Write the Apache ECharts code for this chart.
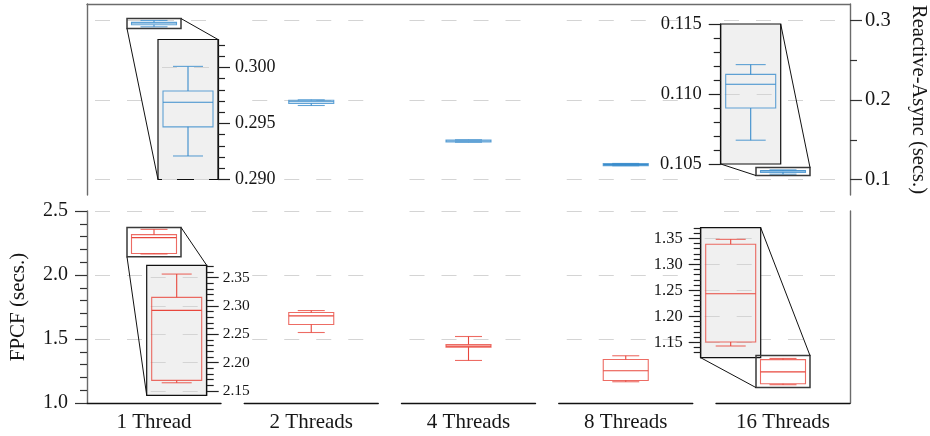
<!DOCTYPE html>
<html><head><meta charset="utf-8">
<script src="https://cdn.jsdelivr.net/npm/echarts@6/dist/echarts.min.js"></script>
<style>html,body{margin:0;padding:0;background:#fff}#c{width:930px;height:436px}</style>
</head><body><div id="c"></div>
<script>
// ---------------- data ----------------
const categories = ['1 Thread', '2 Threads', '4 Threads', '8 Threads', '16 Threads'];
// each row: [lower whisker, Q1, median, Q3, upper whisker]
const reactiveAsync = [
  [0.2921, 0.2947, 0.2969, 0.2979, 0.3001],
  [0.1931, 0.1957, 0.1979, 0.1997, 0.2002],
  [0.1470, 0.1472, 0.1484, 0.1497, 0.1499],
  [0.1173, 0.1175, 0.1187, 0.1200, 0.1202],
  [0.1067, 0.1090, 0.1107, 0.1114, 0.1121]
];
const fpcf = [
  [2.1642, 2.1684, 2.2923, 2.3153, 2.3565],
  [1.5507, 1.6131, 1.6807, 1.7067, 1.7223],
  [1.3323, 1.4368, 1.4440, 1.4570, 1.5195],
  [1.1660, 1.1763, 1.2519, 1.3400, 1.3690],
  [1.1429, 1.1506, 1.2435, 1.3385, 1.3480]
];
const topRange = [0.0805, 0.3208];
const topTicks = [0.1, 0.2, 0.3];
const topMinorTicks = [0.15, 0.25];
const botRange = [1.0, 2.5];
const botGridTicks = [1.5, 2.0, 2.5];
const insetTopLeftRange = [0.290, 0.3025];
const insetTopLeftTicks = [0.290, 0.295, 0.300];
const insetTopRightRange = [0.105, 0.115];
const insetTopRightTicks = [0.105, 0.110, 0.115];
const insetBotLeftRange = [2.142, 2.372];
const insetBotLeftTicks = [2.15, 2.20, 2.25, 2.30, 2.35];
const insetBotRightRange = [1.1204, 1.3704];
const insetBotRightTicks = [1.15, 1.20, 1.25, 1.30, 1.35];

// ---------------- style / layout ----------------
const FONT = 'Liberation Serif';
const TXT = '#161616';
const GRAY = '#6b6b6b';
const BLUE = '#3a8ccc';
const RED = '#e8473d';
const GRID_LINE = '#d4d4d4';
const COL_LEFT = 87, COL_W = 134, COL_STEP = 157.25;
const TOP = {top: 4, height: 191};
const BOT = {top: 211, height: 192};
const MAIN_BOX = 45 / 134;
const INSET_BOX = 50 / 60;

function minorList(range, step, majors) {
  const out = [];
  const n0 = Math.ceil(range[0] / step - 1e-6), n1 = Math.floor(range[1] / step + 1e-6);
  for (let k = n0; k <= n1; k++) {
    const v = +(k * step).toFixed(6);
    if (!majors.some(m => Math.abs(m - v) < step / 10)) out.push(v);
  }
  return out;
}

const grids = [], xAxes = [], yAxes = [], series = [];
const addGrid = g => (grids.push(Object.assign({outerBoundsMode: 'none', containLabel: false}, g)), grids.length - 1);
const addX = a => (xAxes.push(a), xAxes.length - 1);
const addY = a => (yAxes.push(a), yAxes.length - 1);

function boxRender(frac, color) {
  return function (params, api) {
    const c = api.value(0);
    const bw = api.size([1, 0])[0] * frac;
    const pLow = api.coord([c, api.value(1)]);
    const pQ1 = api.coord([c, api.value(2)]);
    const pMed = api.coord([c, api.value(3)]);
    const pQ3 = api.coord([c, api.value(4)]);
    const pHigh = api.coord([c, api.value(5)]);
    const x = pMed[0], h = bw / 2, cap = bw * 0.3;
    const soft = {stroke: color, lineWidth: 1.1, fill: null, opacity: 0.8};
    const hard = {stroke: color, lineWidth: 1.1, fill: null};
    return {type: 'group', children: [
      {type: 'rect', shape: {x: x - h, y: pQ3[1], width: bw, height: pQ1[1] - pQ3[1]}, style: soft},
      {type: 'line', shape: {x1: x - h, y1: pMed[1], x2: x + h, y2: pMed[1]}, style: hard},
      {type: 'line', shape: {x1: x, y1: pQ3[1], x2: x, y2: pHigh[1]}, style: hard},
      {type: 'line', shape: {x1: x, y1: pQ1[1], x2: x, y2: pLow[1]}, style: hard},
      {type: 'line', shape: {x1: x - cap, y1: pHigh[1], x2: x + cap, y2: pHigh[1]}, style: soft},
      {type: 'line', shape: {x1: x - cap, y1: pLow[1], x2: x + cap, y2: pLow[1]}, style: soft}
    ]};
  };
}

function gridLineSeries(xi, yi, values, z, offset) {
  return {
    type: 'line', xAxisIndex: xi, yAxisIndex: yi, data: [], z: z, silent: true,
    markLine: {
      silent: true, symbol: ['none', 'none'], z: z, animation: false,
      label: {show: false}, emphasis: {disabled: true},
      lineStyle: {color: GRID_LINE, width: 1.2, type: [15, 17], dashOffset: offset},
      data: values.map(v => ({yAxis: v}))
    }
  };
}

// ----- panel frames with the main value axes -----
const gTopFull = addGrid({left: COL_LEFT, top: TOP.top, width: 763, height: TOP.height});
addX({gridIndex: gTopFull, type: 'value', min: 0, max: 1, position: 'top',
  axisLine: {show: true, onZero: false, lineStyle: {color: GRAY, width: 1.4}},
  axisTick: {show: false}, axisLabel: {show: false}, splitLine: {show: false}});
addY({gridIndex: gTopFull, type: 'value', position: 'right', min: topRange[0], max: topRange[1],
  axisLine: {show: true, onZero: false, lineStyle: {color: GRAY, width: 1.4}},
  axisTick: {show: true, customValues: topTicks, length: 12, lineStyle: {color: '#333', width: 1.2}},
  axisLabel: {show: true, customValues: topTicks, formatter: v => v.toFixed(1), margin: 15,
    fontSize: 20.5, fontFamily: FONT, color: TXT},
  splitLine: {show: false},
  name: 'Reactive-Async (secs.)', nameLocation: 'middle', nameRotate: -90, nameGap: 58,
  nameTextStyle: {fontSize: 20.5, fontFamily: FONT, color: TXT}});
addY({gridIndex: gTopFull, type: 'value', position: 'left', min: topRange[0], max: topRange[1],
  axisLine: {show: true, onZero: false, lineStyle: {color: GRAY, width: 1.4}},
  axisTick: {show: false}, axisLabel: {show: false}, splitLine: {show: false}});

const gBotFull = addGrid({left: COL_LEFT, top: BOT.top, width: 763, height: BOT.height});
addX({gridIndex: gBotFull, type: 'value', min: 0, max: 1, show: false});
addY({gridIndex: gBotFull, type: 'value', position: 'left', min: botRange[0], max: botRange[1], interval: 0.5,
  axisLine: {show: true, onZero: false, lineStyle: {color: GRAY, width: 1.4}},
  axisTick: {show: true, length: 12, lineStyle: {color: '#333', width: 1.2}},
  minorTick: {show: true, splitNumber: 5, length: 7, lineStyle: {color: '#333', width: 1.2}},
  axisLabel: {show: true, formatter: v => v.toFixed(1), margin: 19, fontSize: 20, fontFamily: FONT, color: TXT},
  splitLine: {show: false},
  name: 'FPCF (secs.)', nameLocation: 'middle', nameRotate: 90, nameGap: 58,
  nameTextStyle: {fontSize: 21, fontFamily: FONT, color: TXT}});
addY({gridIndex: gBotFull, type: 'value', position: 'right', min: botRange[0], max: botRange[1],
  axisLine: {show: true, onZero: false, lineStyle: {color: GRAY, width: 1.4}},
  axisTick: {show: false}, axisLabel: {show: false}, splitLine: {show: false}});

// ----- per-category sub-plots -----
const sub = {top: [], bot: []};
categories.forEach((cat, i) => {
  const left = COL_LEFT + i * COL_STEP;
  const last = i === categories.length - 1;
  // top row (the last one also carries the minor ticks of the right-hand axis)
  let g = addGrid({left: left, top: TOP.top, width: COL_W, height: TOP.height});
  let xi = addX({gridIndex: g, type: 'category', data: [cat], show: false, axisLine: {onZero: false}});
  let yi = addY(last ? {gridIndex: g, type: 'value', position: 'right', min: topRange[0], max: topRange[1],
      axisLine: {show: false, onZero: false},
      axisTick: {show: true, customValues: topMinorTicks, length: 7, lineStyle: {color: '#333', width: 1.2}},
      axisLabel: {show: false}, splitLine: {show: false}}
    : {gridIndex: g, type: 'value', min: topRange[0], max: topRange[1], show: false, axisLine: {onZero: false}});
  series.push(gridLineSeries(xi, yi, topTicks, 1, 24));
  series.push({type: 'custom', xAxisIndex: xi, yAxisIndex: yi, z: 3, silent: true,
    renderItem: boxRender(MAIN_BOX, BLUE), data: [[0].concat(reactiveAsync[i])],
    encode: {x: 0, y: [1, 2, 3, 4, 5]}});
  sub.top.push({xi, yi, left});
  // bottom row
  g = addGrid({left: left, top: BOT.top, width: COL_W, height: BOT.height});
  xi = addX({gridIndex: g, type: 'category', data: [cat],
    axisLine: {show: true, onZero: false, lineStyle: {color: '#111', width: 1.4}},
    axisTick: {show: false},
    axisLabel: {show: true, margin: 9, fontSize: 21, fontFamily: FONT, color: TXT}});
  yi = addY({gridIndex: g, type: 'value', min: botRange[0], max: botRange[1], show: false, axisLine: {onZero: false}});
  series.push(gridLineSeries(xi, yi, botGridTicks, 1, 24));
  series.push({type: 'custom', xAxisIndex: xi, yAxisIndex: yi, z: 3, silent: true,
    renderItem: boxRender(MAIN_BOX, RED), data: [[0].concat(fpcf[i])],
    encode: {x: 0, y: [1, 2, 3, 4, 5]}});
  sub.bot.push({xi, yi, left});
});

// ----- zoom insets -----
const insets = [
  {row: 'top', cat: 0, values: reactiveAsync[0], color: BLUE, range: insetTopLeftRange, ticks: insetTopLeftTicks,
   step: 0.001, digits: 3, side: 'right', rect: {left: 158, top: 39.5, width: 60, height: 140}, font: 18, margin: 17},
  {row: 'top', cat: 4, values: reactiveAsync[4], color: BLUE, range: insetTopRightRange, ticks: insetTopRightTicks,
   step: 0.001, digits: 3, side: 'left', rect: {left: 720.7, top: 24, width: 60, height: 140}, font: 18.5, margin: 19},
  {row: 'bot', cat: 0, values: fpcf[0], color: RED, range: insetBotLeftRange, ticks: insetBotLeftTicks,
   step: 0.01, digits: 2, side: 'right', rect: {left: 146.7, top: 265.3, width: 60, height: 130}, font: 15.5, margin: 16},
  {row: 'bot', cat: 4, values: fpcf[4], color: RED, range: insetBotRightRange, ticks: insetBotRightTicks,
   step: 0.01, digits: 2, side: 'left', rect: {left: 700.7, top: 227.7, width: 60, height: 130}, font: 16.5, margin: 18}
];
insets.forEach(ins => {
  const g = addGrid(Object.assign({show: true, z: 10, backgroundColor: '#f0f0f0', borderColor: '#111', borderWidth: 1.2}, ins.rect));
  const xi = addX({gridIndex: g, type: 'category', data: ['zoom'], show: false, z: 11, axisLine: {onZero: false}});
  const yi = addY({gridIndex: g, type: 'value', position: ins.side, min: ins.range[0], max: ins.range[1], z: 11,
    axisLine: {show: true, onZero: false, lineStyle: {color: '#111', width: 1.2}},
    axisTick: {show: true, customValues: ins.ticks, length: 12, lineStyle: {color: '#222', width: 1.2}},
    axisLabel: {show: true, customValues: ins.ticks, formatter: v => v.toFixed(ins.digits), margin: ins.margin,
      fontSize: ins.font, fontFamily: FONT, color: TXT},
    splitLine: {show: false}});
  addY({gridIndex: g, type: 'value', position: ins.side, min: ins.range[0], max: ins.range[1], z: 11,
    axisLine: {show: false, onZero: false},
    axisTick: {show: true, customValues: minorList(ins.range, ins.step, ins.ticks), length: 7, lineStyle: {color: '#222', width: 1.2}},
    axisLabel: {show: false}, splitLine: {show: false}});
  series.push(gridLineSeries(xi, yi, ins.ticks, 11, 28));
  series.push({type: 'custom', xAxisIndex: xi, yAxisIndex: yi, z: 12, silent: true,
    renderItem: boxRender(INSET_BOX, ins.color), data: [[0].concat(ins.values)],
    encode: {x: 0, y: [1, 2, 3, 4, 5]}});
  ins.xi = xi; ins.yi = yi;
});

const chart = echarts.init(document.getElementById('c'), null, {renderer: 'canvas', width: 930, height: 436});
chart.setOption({
  animation: false,
  backgroundColor: '#ffffff',
  textStyle: {fontFamily: FONT},
  grid: grids, xAxis: xAxes, yAxis: yAxes, series: series
});

// ----- inset indicator rectangles and connector lines (positions from the axes) -----
const graphics = [];
insets.forEach(ins => {
  const s = sub[ins.row][ins.cat];
  const pTop = chart.convertToPixel({xAxisIndex: s.xi, yAxisIndex: s.yi}, [0, ins.range[1]]);
  const pBot = chart.convertToPixel({xAxisIndex: s.xi, yAxisIndex: s.yi}, [0, ins.range[0]]);
  const half = (COL_W * MAIN_BOX / INSET_BOX) / 2;
  const iTop = chart.convertToPixel({xAxisIndex: ins.xi, yAxisIndex: ins.yi}, [0, ins.range[1]]);
  const iBot = chart.convertToPixel({xAxisIndex: ins.xi, yAxisIndex: ins.yi}, [0, ins.range[0]]);
  const ih = ins.rect.width / 2;
  graphics.push({type: 'rect', z: 20, silent: true,
    shape: {x: pTop[0] - half, y: pTop[1], width: 2 * half, height: pBot[1] - pTop[1]},
    style: {fill: null, stroke: '#3a3a3a', lineWidth: 1.5}});
  graphics.push({type: 'line', z: 20, silent: true,
    shape: {x1: pTop[0] + half, y1: pTop[1], x2: iTop[0] + ih, y2: iTop[1]},
    style: {stroke: '#111', lineWidth: 1}});
  graphics.push({type: 'line', z: 20, silent: true,
    shape: {x1: pBot[0] - half, y1: pBot[1], x2: iBot[0] - ih, y2: iBot[1]},
    style: {stroke: '#111', lineWidth: 1}});
});
chart.setOption({graphic: graphics});
</script>
</body></html>
